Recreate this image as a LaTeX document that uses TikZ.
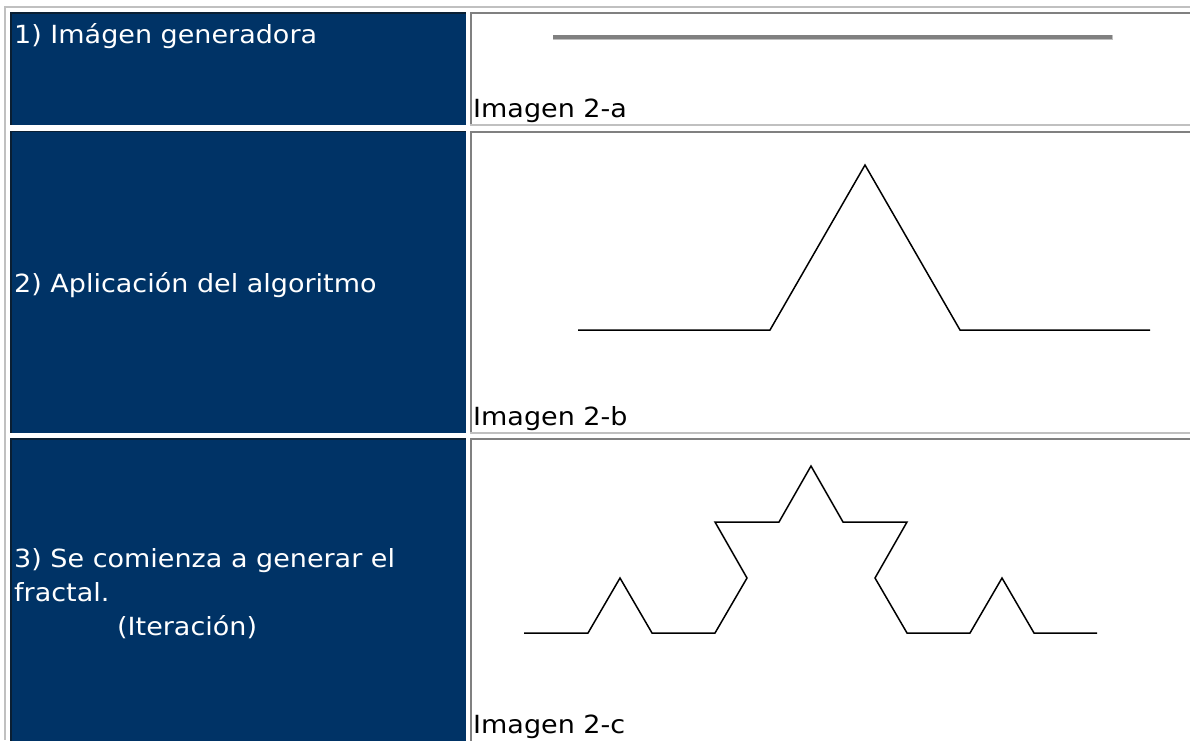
\documentclass[tikz,border=0pt]{standalone}
\usepackage{fontspec}
\setmainfont{DejaVu Sans}[FakeStretch=1.08]
\definecolor{navy}{HTML}{003366}
\definecolor{edgedark}{HTML}{808080}
\definecolor{edgelight}{HTML}{C0C0C0}
\definecolor{navyedge}{HTML}{0A1F33}
\begin{document}
\begin{tikzpicture}[x=1pt,y=-1pt,
  lefttext/.style={anchor=base west, inner sep=0pt, text=white, font=\fontsize{25}{33.5}\selectfont},
  righttext/.style={anchor=base west, inner sep=0pt, text=black, font=\fontsize{25}{29}\selectfont},
  darkcell/.style={fill=navy},
  darkedge/.style={fill=navyedge},
  lowedge/.style={fill=edgedark},
  highedge/.style={fill=edgelight},
  koch/.style={line width=1.5pt, black, line join=miter}]
\useasboundingbox (0,0) rectangle (1190,740);
\clip (0,0) rectangle (1190,740);
\fill[white] (0,0) rectangle (1190,740);
% outer table border
\fill[highedge] (4,6) rectangle (1190,8);
\fill[highedge] (4,6) rectangle (6,740);
% rows
\foreach \top/\bot in {12/126, 130.5/434, 438/760}{
  \fill[darkcell] (10,\top) rectangle (466,\bot-1);
  \fill[darkedge] (10,\top) rectangle (466,\top+1.5);
  \fill[darkedge] (10,\top) rectangle (11.5,\bot-1);
  \fill[lowedge] (469.5,\top) rectangle (1200,\top+2);
  \fill[lowedge] (469.5,\top) rectangle (471.5,\bot);
  \fill[highedge] (469.5,\bot-2) rectangle (1200,\bot);
}
% left texts
\node[lefttext] (l1) at (14,43) {1) Imágen generadora};
\node[lefttext] (l2) at (14,292) {2) Aplicación del algoritmo};
\node[lefttext] (l3a) at (14,567) {3) Se comienza a generar el};
\node[lefttext] (l3b) at (14,601) {fractal.};
\node[lefttext] (l3c) at (117,635) {(Iteración)};
% right labels
\node[righttext] (r1) at (473,117) {Imagen 2-a};
\node[righttext] (r2) at (473,425) {Imagen 2-b};
\node[righttext] (r3) at (473,733) {Imagen 2-c};
% image 2-a: generating segment
\fill[lowedge] (553,35) rectangle (1112,39);
\fill[highedge] (553,39) rectangle (1113,40);
\fill[highedge] (1112,35) rectangle (1113,40);
% image 2-b
\draw[koch] (578,330) -- (770,330) -- (865,165) -- (960,330) -- (1150,330);
% image 2-c
\draw[koch] (524,633) -- (588,633) -- (620,578) -- (652,633) -- (715,633)
  -- (747,578) -- (715,522) -- (779,522) -- (811,466) -- (843,522)
  -- (907,522) -- (875,578) -- (907,633) -- (970,633) -- (1002,578)
  -- (1034,633) -- (1097,633);
\end{tikzpicture}
\end{document}
